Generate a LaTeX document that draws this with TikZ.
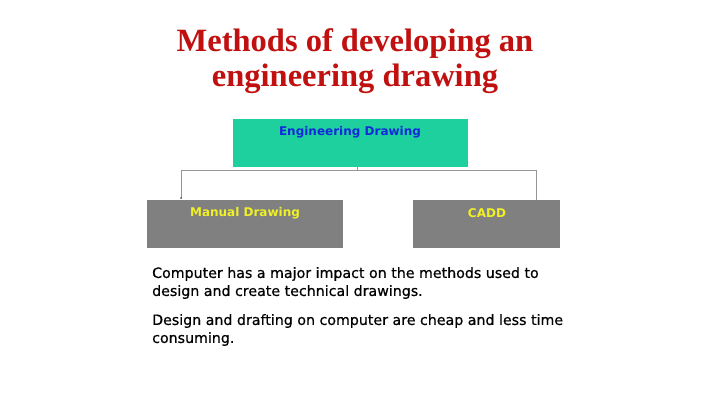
\documentclass[tikz,border=0pt]{standalone}
\usepackage{fontspec}
\setmainfont{Liberation Serif}
\newfontfamily\boxfont{DejaVu Sans}
\newfontfamily\bodyfont[FakeBold=0.6]{DejaVu Sans}
\definecolor{titlered}{RGB}{192,16,16}
\definecolor{tealbox}{RGB}{30,208,158}
\definecolor{graybox}{RGB}{128,128,128}
\definecolor{boxblue}{RGB}{20,40,220}
\definecolor{boxyellow}{RGB}{240,240,40}
\definecolor{linegray}{RGB}{150,150,150}
\begin{document}
\begin{tikzpicture}[x=1pt,y=-1pt,
  box/.style={draw=none,minimum height=48pt,inner sep=0pt},
  lbl/.style={font=\boxfont\bfseries\fontsize{12}{14}\selectfont},
  body/.style={anchor=west,inner sep=0pt,font=\bodyfont\fontsize{14.2}{16}\selectfont},
  conn/.style={draw=linegray,line width=0.8pt}]
\useasboundingbox (0,0) rectangle (720,404);
\node[font=\bfseries\fontsize{32.5}{35.5}\selectfont,text=titlered,align=center] (title) at (355,61) {Methods of developing an\\engineering drawing};
\node[box,fill=tealbox,minimum width=235pt] (top) at (350.5,143) {};
\node[lbl,text=boxblue] (toplbl) at (350,132) {Engineering Drawing};
\node[box,fill=graybox,minimum width=196pt] (man) at (245,224) {};
\node[lbl,text=boxyellow] (manlbl) at (245,213) {Manual Drawing};
\node[box,fill=graybox,minimum width=147pt] (cadd) at (486.5,224) {};
\node[lbl,text=boxyellow] (caddlbl) at (487,213) {CADD};
\coordinate (topc) at (357,142);
\coordinate (j) at (357,170);
\coordinate (lj) at (181,170);
\coordinate (rj) at (536,170);
\coordinate (lend) at (181,198);
\draw[conn] (topc) -- (j);
\draw[conn] (lj) -- (rj);
\draw[conn] (lj) -- (lend);
\draw[conn] (rj) -- (rj |- cadd.north);
\fill[black!70] (lend) circle (1pt);
\node[body] (t1) at (152,274) {Computer has a major impact on the methods used to};
\node[body] (t2) at (152,292) {design and create technical drawings.};
\node[body] (t3) at (152,321) {Design and drafting on computer are cheap and less time};
\node[body] (t4) at (152,339) {consuming.};
\end{tikzpicture}
\end{document}
